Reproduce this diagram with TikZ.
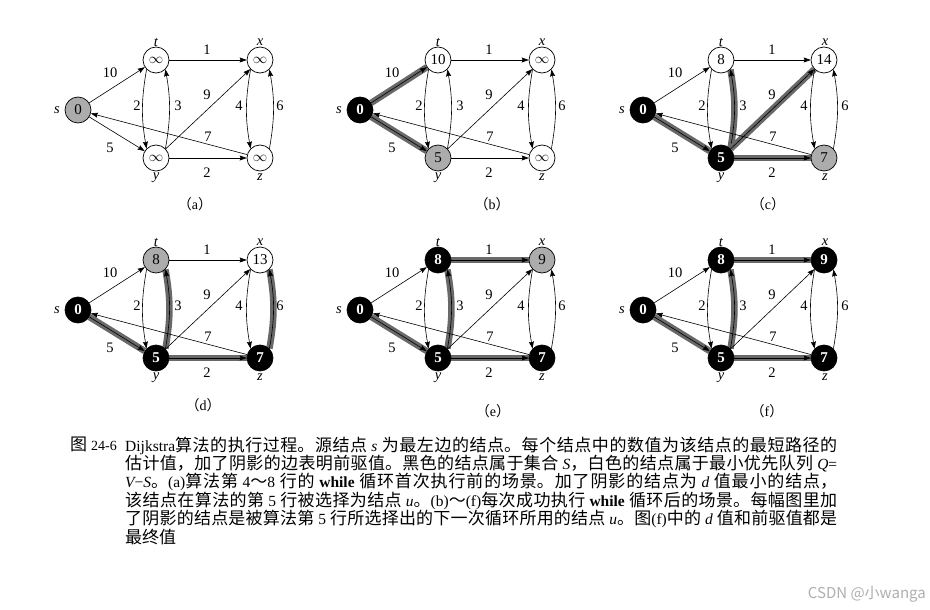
\documentclass[tikz,border=0pt]{standalone}
\usepackage{fontspec}
\setmainfont{Liberation Serif}
\newfontfamily\cjk{Noto Sans CJK SC}
\usetikzlibrary{arrows.meta,backgrounds}
\XeTeXlinebreaklocale "zh"
\XeTeXlinebreakskip=0pt plus 2pt
\definecolor{nodegray}{RGB}{172,172,172}
\definecolor{bandgray}{RGB}{105,105,105}
\definecolor{wmgray}{RGB}{175,175,175}
\newcommand\lat[1]{{\rmfamily\fontsize{15.5}{18.4}\selectfont #1}}
\newcommand\lit[1]{{\rmfamily\itshape\fontsize{15.5}{18.4}\selectfont #1}}
\newcommand\plab[1]{{\cjk （}#1{\cjk ）}}
\tikzset{
  vnode/.style={circle, draw, line width=0.7pt, minimum size=26pt, inner sep=0pt,
    font=\fontsize{15}{15}\selectfont},
  wn/.style={vnode, fill=white},
  gn/.style={vnode, fill=nodegray},
  bn/.style={vnode, fill=black, text=white, font=\fontsize{15}{15}\selectfont\bfseries},
  edge/.style={draw, line width=0.6pt, -{Stealth[length=7pt,width=5pt,inset=1pt]}},
  hl/.style={preaction={draw=bandgray, line width=6.5pt, -}},
  wlab/.style={font=\fontsize{14.5}{14.5}\selectfont, inner sep=1pt},
  vlab/.style={font=\fontsize{14.5}{14.5}\selectfont\itshape, inner sep=1pt},
  plabel/.style={font=\fontsize{14}{14}\selectfont, inner sep=1pt},
  est/.style={}, esy/.style={}, etx/.style={}, ety/.style={}, eyt/.style={},
  eyx/.style={}, eyz/.style={}, exz/.style={}, ezx/.style={}, ezs/.style={},
  caption/.style={font=\cjk\fontsize{17}{18.4}\selectfont, inner sep=0pt},
}
\newcommand\alledges{%
  \begin{pgfonlayer}{background}
    \draw[edge,est] (s) -- (t);
    \draw[edge,esy] (s) -- (y);
    \draw[edge,etx] (t) -- (x);
    \draw[edge,ety] (t.225) to[out=260,in=100] (y.135);
    \draw[edge,eyt] (y.45) to[out=80,in=280] (t.315);
    \draw[edge,eyx] (y) -- (x);
    \draw[edge,eyz] (y) -- (z);
    \draw[edge,exz] (x.225) to[out=260,in=100] (z.135);
    \draw[edge,ezx] (z.45) to[out=80,in=280] (x.315);
    \draw[edge,ezs] (z) -- (s);
  \end{pgfonlayer}
  \node[wlab] (w10) at (32,-37) {10};
  \node[wlab] (w5) at (32,38) {5};
  \node[wlab] (w1) at (129,-60) {1};
  \node[wlab] (w9) at (129,-15) {9};
  \node[wlab] (w2b) at (129,63) {2};
  \node[wlab] (w7) at (130,27) {7};
  \node[wlab] (w2) at (59,-4) {2};
  \node[wlab] (w3) at (100,-4) {3};
  \node[wlab] (w4) at (161,-4) {4};
  \node[wlab] (w6) at (202,-4) {6};
  \node[vlab] (ls) at (-21,0) {s};
  \node[vlab] (lt) at (78,-68) {t};
  \node[vlab] (lx) at (182,-68) {x};
  \node[vlab] (ly) at (78,68) {y};
  \node[vlab] (lz) at (182,67) {z};
}
\begin{document}
\begin{tikzpicture}[x=1pt,y=-1pt]
\begin{pgfonlayer}{background}
  \fill[white] (0,0) rectangle (930,610);
\end{pgfonlayer}
\useasboundingbox (0,0) rectangle (930,610);

% (a)
\begin{scope}[shift={(78,110)}, name prefix=a-]
  \node[gn] (s) at (0,0) {0};
  \node[wn] (t) at (78,-50) {$\infty$};
  \node[wn] (x) at (182,-50) {$\infty$};
  \node[wn] (y) at (78,48) {$\infty$};
  \node[wn] (z) at (182,48) {$\infty$};
  \alledges
\end{scope}
% (b)
\begin{scope}[shift={(360,110)}, name prefix=b-, est/.style=hl, esy/.style=hl]
  \node[bn] (s) at (0,0) {0};
  \node[wn] (t) at (78,-50) {10};
  \node[wn] (x) at (182,-50) {$\infty$};
  \node[gn] (y) at (78,48) {5};
  \node[wn] (z) at (182,48) {$\infty$};
  \alledges
\end{scope}
% (c)
\begin{scope}[shift={(643,110)}, name prefix=c-, esy/.style=hl, eyt/.style=hl, eyx/.style=hl, eyz/.style=hl]
  \node[bn] (s) at (0,0) {0};
  \node[wn] (t) at (78,-50) {8};
  \node[wn] (x) at (181,-50) {14};
  \node[bn] (y) at (78,48) {5};
  \node[gn] (z) at (181,48) {7};
  \alledges
\end{scope}
% (d)
\begin{scope}[shift={(78,310)}, name prefix=d-, esy/.style=hl, eyt/.style=hl, eyz/.style=hl, ezx/.style=hl]
  \node[bn] (s) at (0,0) {0};
  \node[gn] (t) at (78,-50) {8};
  \node[wn] (x) at (182,-50) {13};
  \node[bn] (y) at (78,48) {5};
  \node[bn] (z) at (182,48) {7};
  \alledges
\end{scope}
% (e)
\begin{scope}[shift={(360,310)}, name prefix=e-, esy/.style=hl, eyt/.style=hl, etx/.style=hl, eyz/.style=hl]
  \node[bn] (s) at (0,0) {0};
  \node[bn] (t) at (78,-50) {8};
  \node[gn] (x) at (182,-50) {9};
  \node[bn] (y) at (78,48) {5};
  \node[bn] (z) at (182,48) {7};
  \alledges
\end{scope}
% (f)
\begin{scope}[shift={(643,310)}, name prefix=f-, esy/.style=hl, eyt/.style=hl, etx/.style=hl, eyz/.style=hl]
  \node[bn] (s) at (0,0) {0};
  \node[bn] (t) at (78,-50) {8};
  \node[bn] (x) at (181,-50) {9};
  \node[bn] (y) at (78,48) {5};
  \node[bn] (z) at (181,48) {7};
  \alledges
\end{scope}

\node[plabel] (pa) at (195,204) {\plab{a}};
\node[plabel] (pb) at (492,204) {\plab{b}};
\node[plabel] (pc) at (768,204) {\plab{c}};
\node[plabel] (pd) at (203,405) {\plab{d}};
\node[plabel] (pe) at (493,411) {\plab{e}};
\node[plabel] (pf) at (767,411) {\plab{f}};

\node[caption, anchor=north west] (fig) at (70,436.5) {图\hspace{4pt}{\rmfamily\fontsize{14}{18.4}\selectfont 24-6}};
\node[caption, anchor=north west, text width=712pt, align=justify] (cap) at (125,436.5) {%
\lat{Dijkstra}算法的执行过程。源结点 \lit{s} 为最左边的结点。每个结点中的数值为该结点的最短路径的\linebreak
估计值，加了阴影的边表明前驱值。黑色的结点属于集合 \lit{S}，白色的结点属于最小优先队列 \lit{Q}\lat{=}\linebreak
\lit{V}\lat{−}\lit{S}。\lat{(a)}算法第 \lat{4}～\lat{8} 行的 \lat{\bfseries while} 循环首次执行前的场景。加了阴影的结点为 \lit{d} 值最小的结点，\linebreak
该结点在算法的第 \lat{5} 行被选择为结点 \lit{u}。\lat{(b)}～\lat{(f)}每次成功执行 \lat{\bfseries while} 循环后的场景。每幅图里加\linebreak
了阴影的结点是被算法第 \lat{5} 行所选择出的下一次循环所用的结点 \lit{u}。图\lat{(f)}中的 \lit{d} 值和前驱值都是\linebreak
最终值};

\node[anchor=east, font=\cjk\fontsize{15}{15}\selectfont, text=wmgray, inner sep=0pt] (wm) at (926,594) {CSDN @小wanga};
\end{tikzpicture}
\end{document}
